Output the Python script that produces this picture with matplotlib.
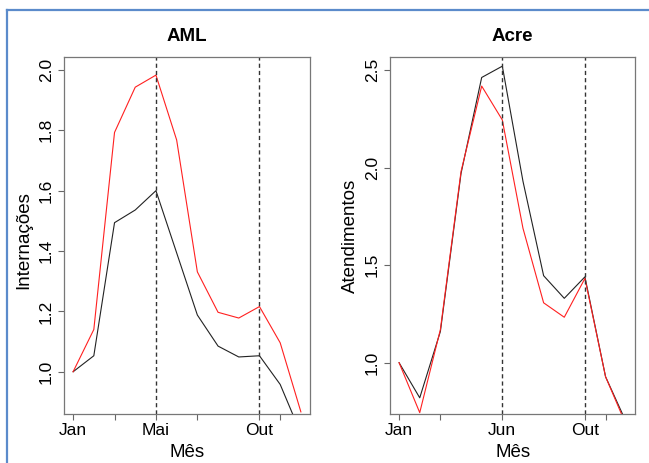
import numpy as np
import matplotlib.pyplot as plt
from matplotlib.lines import Line2D

meses = np.arange(1, 13)

# AML - internacoes
aml_preto = [1.0, 1.053, 1.494, 1.536, 1.60, 1.394, 1.188, 1.085, 1.049, 1.053, 0.958, 0.795]
aml_verm = [1.0, 1.14, 1.793, 1.943, 1.983, 1.768, 1.331, 1.197, 1.178, 1.216, 1.096, 0.867]

# Acre - atendimentos
acre_preto = [1.0, 0.820, 1.16, 1.97, 2.462, 2.52, 1.93, 1.446, 1.33, 1.44, 0.928, 0.695]
acre_verm = [1.0, 0.744, 1.17, 1.98, 2.418, 2.244, 1.689, 1.307, 1.233, 1.432, 0.928, 0.68]

aml_ticks = [1, 3, 5, 7, 10, 11]
aml_rotulos = ["Jan", "", "Mai", "", "Out", ""]
aml_yticks = [1.0, 1.2, 1.4, 1.6, 1.8, 2.0]
aml_vlinhas = [5, 10]

acre_ticks = [1, 3, 6, 10, 11]
acre_rotulos = ["Jan", "", "Jun", "Out", ""]
acre_yticks = [1.0, 1.5, 2.0, 2.5]
acre_vlinhas = [6, 10]

plt.rcParams['font.family'] = ['Liberation Sans', 'DejaVu Sans']

fig = plt.figure(figsize=(6.49, 4.63), dpi=100)
ax1 = fig.add_axes([64/649, 1-414/463, 246/649, 357/463])
ax2 = fig.add_axes([390/649, 1-414/463, 245.3/649, 357/463])


def painel(ax, preto, verm, ticks, rotulos, yticks, vlinhas, titulo, ylim):
    ax.plot(meses, preto, color='#222222', lw=0.8)
    ax.plot(meses, verm, color='#ff2020', lw=0.8)
    for v in vlinhas:
        ax.axvline(v, color='#333333', lw=1.0, linestyle=(0, (3, 2.2)))
    ax.set_xlim(0.56, 12.44)
    ax.set_ylim(*ylim)
    ax.set_xticks(ticks)
    ax.set_xticklabels(rotulos)
    ax.set_yticks(yticks)
    ax.set_yticklabels([f"{t:.1f}" for t in yticks], rotation=90, va='center')
    ax.tick_params(length=4.3, width=0.8, color='#666666', labelsize=12.5, pad=2)
    ax.tick_params(axis='y', pad=3)
    for s in ax.spines.values():
        s.set_color('#777777')
        s.set_linewidth(0.9)
    ax.set_title(titulo, fontweight='bold', fontsize=13.5, pad=11.7)


painel(ax1, aml_preto, aml_verm, aml_ticks, aml_rotulos, aml_yticks, aml_vlinhas, "AML", (0.86, 2.043))
painel(ax2, acre_preto, acre_verm, acre_ticks, acre_rotulos, acre_yticks, acre_vlinhas, "Acre", (0.737, 2.567))

fig.text(24/649, 1-240/463, "Internações", rotation=90, ha='center', va='center', fontsize=13.5)
fig.text(350/649, 1-236/463, "Atendimentos", rotation=90, ha='center', va='center', fontsize=13.5)
fig.text(187/649, 1-457/463, "Mês", ha='center', va='baseline', fontsize=13.5)
fig.text(512.6/649, 1-457/463, "Mês", ha='center', va='baseline', fontsize=13.5)

# moldura azul (topo e esquerda)
azul = '#5b8bcb'
fig.add_artist(Line2D([7/649, 1], [1-10/463, 1-10/463], color=azul, lw=1.6, transform=fig.transFigure))
fig.add_artist(Line2D([7/649, 7/649], [0, 1-10/463], color=azul, lw=1.6, transform=fig.transFigure))

plt.savefig("out.png")
